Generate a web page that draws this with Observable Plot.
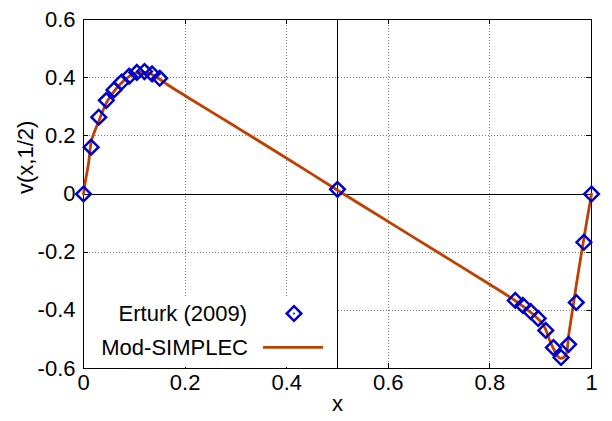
<!DOCTYPE html>
<html>
<head>
<meta charset="utf-8">
<script src="https://cdn.jsdelivr.net/npm/d3@7"></script>
<script src="https://cdn.jsdelivr.net/npm/@observablehq/plot@0.6"></script>
<style>
  html, body { margin: 0; padding: 0; background: white; }
</style>
</head>
<body>
<div id="wrap"></div>
<script>
// Erturk (2009) benchmark points
const erturkX = [0, 0.015, 0.03, 0.045, 0.06, 0.075, 0.09, 0.105, 0.12, 0.135, 0.15, 0.5, 0.85, 0.865, 0.88, 0.895, 0.91, 0.925, 0.94, 0.955, 0.97, 0.985, 1];
const erturkV = [0, 0.161, 0.264, 0.322, 0.358, 0.385, 0.405, 0.418, 0.421, 0.413, 0.398, 0.016, -0.366, -0.383, -0.404, -0.428, -0.469, -0.528, -0.562, -0.517, -0.373, -0.166, 0];

// Mod-SIMPLEC profile
const simX = [0, 0.004, 0.01, 0.016, 0.03, 0.046, 0.062, 0.079, 0.095, 0.112, 0.128, 0.148, 0.167, 0.2, 0.3, 0.4, 0.5, 0.6, 0.7, 0.8, 0.85, 0.87, 0.886, 0.906, 0.919, 0.9325, 0.939, 0.949, 0.955, 0.962, 0.97, 0.984, 1];
const simV = [0, 0.047, 0.106, 0.185, 0.25, 0.317, 0.357, 0.389, 0.41, 0.419, 0.416, 0.397, 0.374, 0.338, 0.231, 0.123, 0.013, -0.095, -0.203, -0.311, -0.367, -0.393, -0.415, -0.452, -0.509, -0.555, -0.565, -0.555, -0.486, -0.406, -0.314, -0.163, 0];

const xTicks = [0, 0.2, 0.4, 0.6, 0.8, 1];
const yTicks = [-0.6, -0.4, -0.2, 0, 0.2, 0.4, 0.6];
const xGrid = [0.2, 0.4, 0.6, 0.8];
const yGrid = [-0.4, -0.2, 0.2, 0.4];
const refX = [0.5];
const refY = [0];
const xLabel = "x";
const yLabel = "v(x,1/2)";
const seriesNames = ["Erturk (2009)", "Mod-SIMPLEC"];

const blue = "#0000c8";
const orange = "#c04000";
const gridGray = "#7a7a7a";
const FONT = 22;
const W = 612, H = 421, ML = 83, MR = 21, MT = 19, MB = 53;
const FW = W - ML - MR, FH = H - MT - MB, TICK = 5;
const R = 6.6;

const erturk = erturkX.map((x, i) => ({x, v: erturkV[i]}));
const sim = simX.map((x, i) => ({x, v: simV[i]}));
const fmt = d => String(+(+d).toFixed(1));

const chart = Plot.plot({
  width: W,
  height: H,
  marginLeft: ML,
  marginRight: MR,
  marginTop: MT,
  marginBottom: MB,
  style: {fontFamily: "'Liberation Sans', Arial, sans-serif", fontSize: FONT + "px", background: "white", color: "black"},
  x: {domain: [0, 1], axis: null},
  y: {domain: [-0.6, 0.6], axis: null},
  marks: [
    Plot.ruleX(xGrid, {x: d => d, stroke: gridGray, strokeDasharray: "1,2", shapeRendering: "crispEdges"}),
    Plot.ruleY(yGrid, {y: d => d, stroke: gridGray, strokeDasharray: "1,2", shapeRendering: "crispEdges"}),
    Plot.ruleX(refX, {x: d => d, stroke: "black", strokeWidth: 1}),
    Plot.ruleY(refY, {y: d => d, stroke: "black", strokeWidth: 1, dy: 0.5}),
    // inward ticks on all four sides
    Plot.ruleX(xTicks, {x: d => d, stroke: "black", insetTop: FH - TICK, shapeRendering: "crispEdges"}),
    Plot.ruleX(xTicks, {x: d => d, stroke: "black", insetBottom: FH - TICK, shapeRendering: "crispEdges"}),
    Plot.ruleY(yTicks, {y: d => d, stroke: "black", insetRight: FW - TICK, shapeRendering: "crispEdges"}),
    Plot.ruleY(yTicks, {y: d => d, stroke: "black", insetLeft: FW - TICK, shapeRendering: "crispEdges"}),
    Plot.text(xTicks, {x: d => d, text: fmt, frameAnchor: "bottom", dy: 21, fontSize: FONT}),
    Plot.text(yTicks, {y: d => d, text: fmt, frameAnchor: "left", textAnchor: "end", dx: -8, fontSize: FONT}),
    Plot.frame({stroke: "black", strokeWidth: 1}),
    Plot.line(sim, {x: "x", y: "v", stroke: orange, strokeWidth: 2.8, curve: "catmull-rom"}),
    Plot.dot(erturk, {x: "x", y: "v", symbol: "diamond2", r: R, stroke: blue, strokeWidth: 2.5, fill: "none"}),
    Plot.text([xLabel], {text: d => d, frameAnchor: "bottom", dy: 42, fontSize: FONT}),
    Plot.text([yLabel], {text: d => d, frameAnchor: "left", rotate: -90, dx: -58, fontSize: FONT})
  ]
});

document.getElementById("wrap").appendChild(chart);

// Key box (opaque, bottom-left inside the frame), drawn into the same SVG
const key = d3.select(chart).append("g").attr("transform", "translate(84,297)")
  .style("font-family", "'Liberation Sans', Arial, sans-serif").style("font-size", FONT + "px");
key.append("rect").attr("width", 252).attr("height", 70).attr("fill", "white");
key.append("text").attr("x", 163).attr("y", 16.5).attr("dy", "0.35em").attr("text-anchor", "end").attr("fill", "black").text(seriesNames[0]);
key.append("path").attr("d", d3.symbol(d3.symbolDiamond2, Math.PI * R * R)()).attr("transform", "translate(210,16.5)")
  .attr("fill", "none").attr("stroke", blue).attr("stroke-width", 2.5);
key.append("circle").attr("cx", 210).attr("cy", 16.5).attr("r", 1).attr("fill", blue);
key.append("text").attr("x", 164).attr("y", 50.5).attr("dy", "0.35em").attr("text-anchor", "end").attr("fill", "black").text(seriesNames[1]);
key.append("line").attr("x1", 179).attr("x2", 239).attr("y1", 50.3).attr("y2", 50.3).attr("stroke", orange).attr("stroke-width", 2.8);
</script>
</body>
</html>
